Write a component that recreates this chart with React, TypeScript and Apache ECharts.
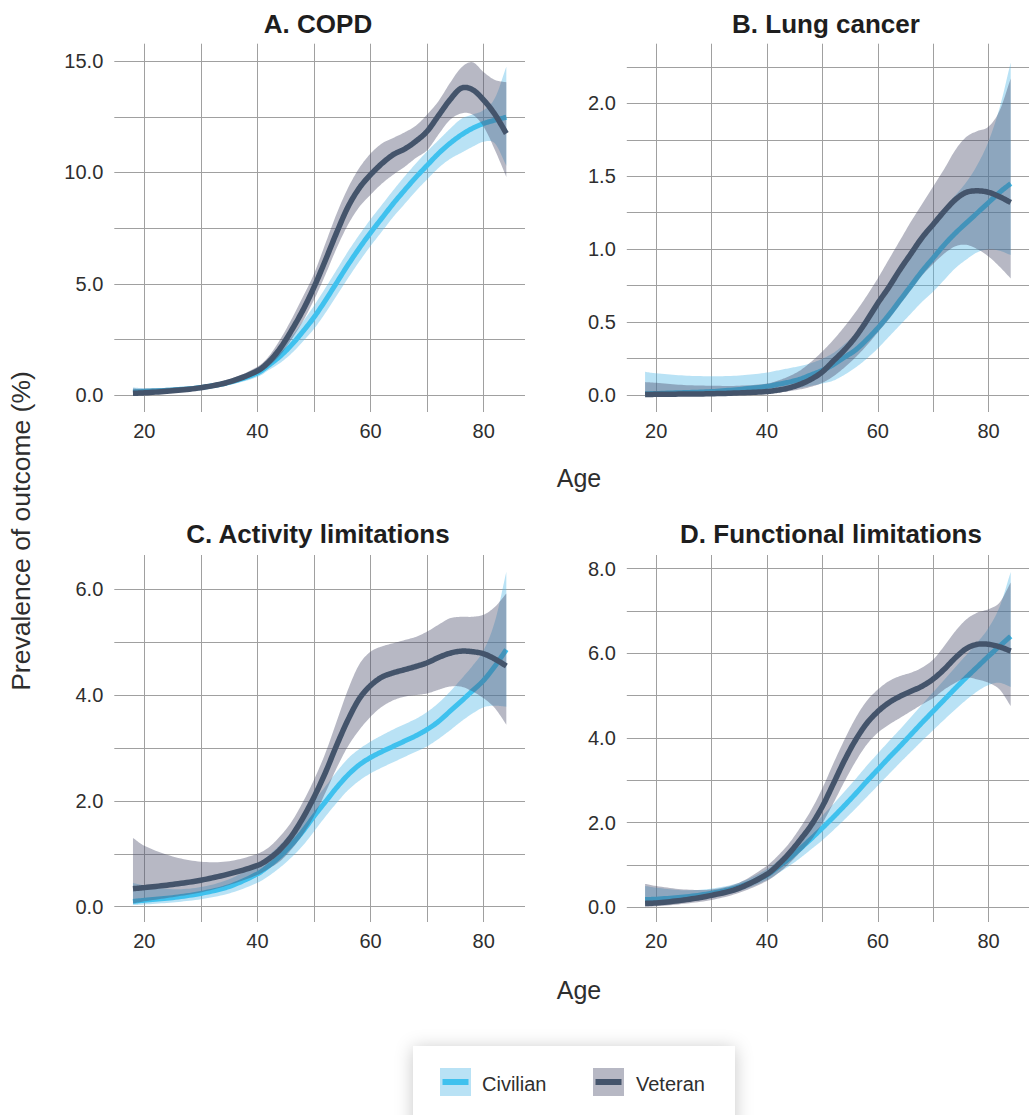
import React, { useEffect, useRef } from "react";
import * as echarts from "echarts";

// ---------- data ----------
const AGES = [18, 20, 25, 30, 35, 40, 42, 44, 46, 48, 50, 52, 54, 56, 58, 60, 62, 64, 66, 68, 70, 72, 74, 76, 78, 80, 82, 84];

const X_GRID = [20, 30, 40, 50, 60, 70, 80];
const X_LABELS = [20, 40, 60, 80];

// A. COPD
const A_VET = [0.09, 0.11, 0.2, 0.34, 0.6, 1.1, 1.5, 2.1, 2.9, 3.8, 4.85, 6.05, 7.3, 8.45, 9.3, 9.9, 10.4, 10.8, 11.05, 11.4, 11.85, 12.55, 13.25, 13.78, 13.72, 13.25, 12.6, 11.75];
const A_VET_LO = [0.0, 0.02, 0.12, 0.25, 0.5, 0.95, 1.3, 1.8, 2.5, 3.3, 4.28, 5.4, 6.6, 7.65, 8.45, 9.0, 9.5, 9.9, 10.25, 10.65, 11.0, 11.7, 12.35, 12.65, 12.6, 12.05, 11.0, 9.8];
const A_VET_HI = [0.3, 0.3, 0.35, 0.45, 0.72, 1.28, 1.75, 2.5, 3.4, 4.4, 5.45, 6.8, 8.15, 9.3, 10.2, 10.85, 11.3, 11.55, 11.8, 12.1, 12.6, 13.2, 14.0, 14.7, 14.95, 14.5, 14.15, 14.05];
const A_CIV = [0.15, 0.17, 0.24, 0.35, 0.58, 1.0, 1.35, 1.75, 2.25, 2.85, 3.5, 4.25, 5.05, 5.85, 6.6, 7.3, 7.95, 8.6, 9.2, 9.78, 10.32, 10.85, 11.3, 11.68, 11.98, 12.2, 12.35, 12.48];
const A_CIV_LO = [0.0, 0.03, 0.14, 0.25, 0.46, 0.82, 1.13, 1.45, 1.87, 2.4, 2.98, 3.69, 4.47, 5.25, 6.0, 6.7, 7.35, 8.0, 8.58, 9.16, 9.69, 10.2, 10.6, 10.88, 11.15, 11.38, 11.3, 10.3];
const A_CIV_HI = [0.35, 0.32, 0.34, 0.45, 0.7, 1.18, 1.57, 2.05, 2.63, 3.3, 4.02, 4.81, 5.63, 6.45, 7.2, 7.9, 8.55, 9.2, 9.82, 10.4, 10.95, 11.45, 11.95, 12.4, 12.6, 12.8, 13.35, 14.75];
const A_Y_GRID = [0, 2.5, 5, 7.5, 10, 12.5, 15];
const A_Y_LABELS = [0, 5, 10, 15];

// B. Lung cancer
const B_VET = [0.005, 0.006, 0.008, 0.01, 0.016, 0.025, 0.035, 0.05, 0.075, 0.11, 0.16, 0.235, 0.31, 0.4, 0.51, 0.63, 0.74, 0.86, 0.97, 1.08, 1.17, 1.26, 1.34, 1.39, 1.4, 1.39, 1.36, 1.32];
const B_VET_LO = [0, 0, 0, 0, 0.005, 0.012, 0.018, 0.028, 0.04, 0.058, 0.085, 0.13, 0.19, 0.26, 0.34, 0.43, 0.52, 0.62, 0.72, 0.82, 0.9, 0.97, 1.02, 1.03, 1.0, 0.95, 0.88, 0.8];
const B_VET_HI = [0.09, 0.085, 0.07, 0.065, 0.065, 0.08, 0.1, 0.13, 0.17, 0.23, 0.3, 0.38, 0.47, 0.57, 0.68, 0.8, 0.93, 1.06, 1.19, 1.31, 1.43, 1.55, 1.68, 1.77, 1.81, 1.84, 1.95, 2.17];
const B_CIV = [0.01, 0.012, 0.018, 0.025, 0.04, 0.06, 0.075, 0.09, 0.11, 0.14, 0.17, 0.21, 0.26, 0.31, 0.38, 0.46, 0.55, 0.65, 0.75, 0.85, 0.94, 1.03, 1.11, 1.18, 1.25, 1.32, 1.39, 1.45];
const B_CIV_LO = [0, 0, 0, 0, 0.005, 0.02, 0.03, 0.04, 0.05, 0.065, 0.08, 0.1, 0.14, 0.19, 0.25, 0.32, 0.4, 0.48, 0.56, 0.64, 0.71, 0.79, 0.87, 0.93, 0.98, 1.0, 0.99, 0.96];
const B_CIV_HI = [0.16, 0.15, 0.135, 0.13, 0.135, 0.155, 0.17, 0.185, 0.2, 0.22, 0.25, 0.29, 0.35, 0.42, 0.51, 0.6, 0.71, 0.83, 0.95, 1.07, 1.18, 1.28, 1.37, 1.46, 1.58, 1.74, 1.97, 2.28];
const B_Y_GRID = [0, 0.25, 0.5, 0.75, 1, 1.25, 1.5, 1.75, 2, 2.25];
const B_Y_LABELS = [0, 0.5, 1, 1.5, 2];

// C. Activity limitations
const C_VET = [0.34, 0.36, 0.42, 0.5, 0.62, 0.78, 0.9, 1.08, 1.33, 1.67, 2.07, 2.53, 3.05, 3.53, 3.93, 4.18, 4.34, 4.42, 4.48, 4.54, 4.61, 4.71, 4.79, 4.83, 4.82, 4.78, 4.68, 4.55];
const C_VET_LO = [0.06, 0.1, 0.18, 0.27, 0.41, 0.6, 0.72, 0.86, 1.08, 1.36, 1.71, 2.15, 2.62, 3.03, 3.34, 3.59, 3.78, 3.9, 3.97, 4.0, 4.03, 4.1, 4.16, 4.16, 4.07, 3.94, 3.75, 3.44];
const C_VET_HI = [1.3, 1.15, 0.95, 0.85, 0.86, 1.0, 1.12, 1.33, 1.6, 1.97, 2.4, 2.9, 3.5, 4.1, 4.58, 4.82, 4.92, 4.98, 5.04, 5.1, 5.2, 5.33, 5.45, 5.48, 5.48, 5.52, 5.67, 5.92];
const C_CIV = [0.1, 0.12, 0.17, 0.25, 0.38, 0.62, 0.77, 0.95, 1.17, 1.42, 1.71, 1.98, 2.25, 2.49, 2.68, 2.82, 2.93, 3.03, 3.13, 3.23, 3.35, 3.5, 3.69, 3.88, 4.08, 4.28, 4.55, 4.86];
const C_CIV_LO = [0.03, 0.04, 0.08, 0.14, 0.25, 0.45, 0.58, 0.74, 0.93, 1.15, 1.42, 1.7, 1.96, 2.2, 2.38, 2.52, 2.63, 2.73, 2.83, 2.93, 3.03, 3.17, 3.33, 3.5, 3.65, 3.77, 3.8, 3.78];
const C_CIV_HI = [0.45, 0.4, 0.33, 0.37, 0.52, 0.8, 0.97, 1.17, 1.41, 1.69, 2.0, 2.27, 2.55, 2.8, 2.98, 3.12, 3.24, 3.35, 3.45, 3.55, 3.68, 3.85, 4.06, 4.3, 4.55, 4.85, 5.4, 6.33];
const C_Y_GRID = [0, 1, 2, 3, 4, 5, 6];
const C_Y_LABELS = [0, 2, 4, 6];

// D. Functional limitations
const D_VET = [0.09, 0.1, 0.17, 0.28, 0.45, 0.78, 1.0, 1.27, 1.59, 1.94, 2.38, 2.92, 3.47, 3.95, 4.34, 4.62, 4.83, 4.98, 5.1, 5.22, 5.39, 5.62, 5.89, 6.11, 6.21, 6.21, 6.15, 6.05];
const D_VET_LO = [0.0, 0.02, 0.08, 0.17, 0.34, 0.62, 0.8, 1.03, 1.3, 1.59, 1.98, 2.46, 2.97, 3.44, 3.84, 4.12, 4.31, 4.47, 4.63, 4.79, 4.94, 5.14, 5.3, 5.42, 5.38, 5.3, 5.14, 4.75];
const D_VET_HI = [0.55, 0.5, 0.42, 0.42, 0.58, 0.98, 1.22, 1.51, 1.88, 2.3, 2.81, 3.4, 3.96, 4.47, 4.87, 5.14, 5.34, 5.46, 5.54, 5.66, 5.85, 6.17, 6.52, 6.8, 6.96, 7.04, 7.2, 7.67];
const D_CIV = [0.18, 0.19, 0.24, 0.33, 0.48, 0.76, 0.95, 1.15, 1.38, 1.62, 1.87, 2.13, 2.4, 2.68, 2.97, 3.25, 3.53, 3.8, 4.08, 4.36, 4.63, 4.9, 5.17, 5.43, 5.68, 5.93, 6.17, 6.4];
const D_CIV_LO = [0.05, 0.07, 0.14, 0.23, 0.38, 0.64, 0.8, 0.97, 1.16, 1.37, 1.58, 1.82, 2.07, 2.33, 2.6, 2.87, 3.14, 3.41, 3.67, 3.93, 4.18, 4.43, 4.67, 4.9, 5.1, 5.25, 5.3, 5.2];
const D_CIV_HI = [0.5, 0.46, 0.4, 0.44, 0.58, 0.9, 1.1, 1.33, 1.6, 1.87, 2.16, 2.44, 2.73, 3.03, 3.34, 3.63, 3.92, 4.2, 4.49, 4.79, 5.08, 5.37, 5.67, 5.96, 6.26, 6.6, 7.1, 7.92];
const D_Y_GRID = [0, 1, 2, 3, 4, 5, 6, 7, 8];
const D_Y_LABELS = [0, 2, 4, 6, 8];

const TITLES = ["A. COPD", "B. Lung cancer", "C. Activity limitations", "D. Functional limitations"];
const LEGEND_LABELS = ["Civilian", "Veteran"];

// ---------- styling ----------
const FONT = "'Liberation Sans', Arial, Helvetica, sans-serif";
const CIV_LINE = "#3fc1ee";
const VET_LINE = "#44546b";
const CIV_BAND = "rgba(80,183,230,0.4)";
const VET_BAND = "rgba(75,78,108,0.4)";
const GRID_COLOR = "#a0a0a0";
const TEXT_COLOR = "#2e2e2e";

const PANELS = [
  { left: 114.3, top: 43.7, height: 368.3, yMin: -0.75, yMax: 15.78, yGrid: A_Y_GRID, yLabels: A_Y_LABELS,
    civ: A_CIV, civLo: A_CIV_LO, civHi: A_CIV_HI, vet: A_VET, vetLo: A_VET_LO, vetHi: A_VET_HI, tx: 318, ty: 24 },
  { left: 626.8, top: 43.7, height: 368.3, yMin: -0.115, yMax: 2.408, yGrid: B_Y_GRID, yLabels: B_Y_LABELS,
    civ: B_CIV, civLo: B_CIV_LO, civHi: B_CIV_HI, vet: B_VET, vetLo: B_VET_LO, vetHi: B_VET_HI, tx: 826, ty: 24 },
  { left: 114.3, top: 555, height: 367, yMin: -0.29, yMax: 6.648, yGrid: C_Y_GRID, yLabels: C_Y_LABELS,
    civ: C_CIV, civLo: C_CIV_LO, civHi: C_CIV_HI, vet: C_VET, vetLo: C_VET_LO, vetHi: C_VET_HI, tx: 318, ty: 534 },
  { left: 626.8, top: 555, height: 367, yMin: -0.35, yMax: 8.32, yGrid: D_Y_GRID, yLabels: D_Y_LABELS,
    civ: D_CIV, civLo: D_CIV_LO, civHi: D_CIV_HI, vet: D_VET, vetLo: D_VET_LO, vetHi: D_VET_HI, tx: 831, ty: 534 },
];
const PANEL_WIDTH = 410.7;

// Cubic Hermite smoothing of pixel points (x monotonic) — rendering only
function smoothPts(p: number[][], steps = 10): number[][] {
  const n = p.length;
  const m: number[] = [];
  for (let i = 0; i < n; i++) {
    const a = p[Math.max(0, i - 1)], b = p[Math.min(n - 1, i + 1)];
    m.push((b[1] - a[1]) / (b[0] - a[0]));
  }
  const out: number[][] = [];
  for (let i = 0; i < n - 1; i++) {
    const p1 = p[i], p2 = p[i + 1];
    const h = p2[0] - p1[0];
    const c1 = [p1[0] + h / 3, p1[1] + (m[i] * h) / 3];
    const c2 = [p2[0] - h / 3, p2[1] - (m[i + 1] * h) / 3];
    for (let s = 0; s < steps; s++) {
      const t = s / steps, mt = 1 - t;
      const a = mt * mt * mt, b = 3 * mt * mt * t, c = 3 * mt * t * t, d = t * t * t;
      out.push([a * p1[0] + b * c1[0] + c * c2[0] + d * p2[0], a * p1[1] + b * c1[1] + c * c2[1] + d * p2[1]]);
    }
  }
  out.push(p[n - 1]);
  return out;
}

function ribbon(gi: number, lo: number[], hi: number[], color: string) {
  return {
    type: "custom", xAxisIndex: gi, yAxisIndex: gi, silent: true, clip: true,
    data: AGES.map((a, i) => [a, lo[i], hi[i]]),
    encode: { x: 0, y: [1, 2] },
    renderItem: (params: any, api: any) => {
      if (params.dataIndexInside !== 0) return null;
      const n = params.dataInsideLength;
      const up: number[][] = [];
      const dn: number[][] = [];
      for (let j = 0; j < n; j++) {
        const x = api.value(0, j);
        up.push(api.coord([x, api.value(2, j)]));
        dn.push(api.coord([x, api.value(1, j)]));
      }
      const pts = smoothPts(up).concat(smoothPts(dn).reverse());
      return { type: "polygon", shape: { points: pts }, style: { fill: color } };
    },
  };
}

function curve(gi: number, vals: number[], color: string, width: number) {
  return {
    type: "custom", xAxisIndex: gi, yAxisIndex: gi, silent: true, clip: true,
    data: AGES.map((a, i) => [a, vals[i]]),
    encode: { x: 0, y: 1 },
    renderItem: (params: any, api: any) => {
      if (params.dataIndexInside !== 0) return null;
      const n = params.dataInsideLength;
      const pts: number[][] = [];
      for (let j = 0; j < n; j++) pts.push(api.coord([api.value(0, j), api.value(1, j)]));
      return {
        type: "polyline",
        shape: { points: smoothPts(pts) },
        style: { stroke: color, lineWidth: width, fill: "none", lineCap: "butt", lineJoin: "round" },
      };
    },
  };
}

export default function App() {
  const ref = useRef<HTMLDivElement>(null);

  useEffect(() => {
    if (!ref.current) return;
    const chart = echarts.init(ref.current, null, { renderer: "svg" });

    const series: any[] = [];
    PANELS.forEach((p, gi) => {
      series.push(ribbon(gi, p.civLo, p.civHi, CIV_BAND));
      series.push(curve(gi, p.civ, CIV_LINE, 5));
      series.push(ribbon(gi, p.vetLo, p.vetHi, VET_BAND));
      series.push(curve(gi, p.vet, VET_LINE, 5.5));
    });

    const graphic: any[] = [];
    PANELS.forEach((p, gi) => {
      graphic.push({
        type: "text", x: p.tx, y: p.ty, silent: true,
        style: { text: TITLES[gi], fill: "#1e1e1e", font: `bold 26px ${FONT}`, textAlign: "center", textVerticalAlign: "middle" },
      });
    });
    graphic.push(
      { type: "text", x: 579, y: 478, silent: true,
        style: { text: "Age", fill: TEXT_COLOR, font: `25px ${FONT}`, textAlign: "center", textVerticalAlign: "middle" } },
      { type: "text", x: 579, y: 990, silent: true,
        style: { text: "Age", fill: TEXT_COLOR, font: `25px ${FONT}`, textAlign: "center", textVerticalAlign: "middle" } },
      { type: "text", x: 21, y: 531, rotation: Math.PI / 2, silent: true,
        style: { text: "Prevalence of outcome (%)", fill: TEXT_COLOR, font: `26.5px ${FONT}`, textAlign: "center", textVerticalAlign: "middle" } },
      // legend box
      { type: "rect", shape: { x: 413, y: 1046, width: 322, height: 90 }, silent: true, z: 10,
        style: { fill: "#ffffff", shadowBlur: 18, shadowColor: "rgba(0,0,0,0.22)", shadowOffsetY: 2 } },
      { type: "rect", shape: { x: 440, y: 1068, width: 31, height: 28 }, silent: true, z: 11,
        style: { fill: "#b9e2f5" } },
      { type: "line", shape: { x1: 442.5, y1: 1082, x2: 468.5, y2: 1082 }, silent: true, z: 12,
        style: { stroke: CIV_LINE, lineWidth: 6 } },
      { type: "text", x: 482, y: 1084, silent: true, z: 12,
        style: { text: LEGEND_LABELS[0], fill: TEXT_COLOR, font: `20px ${FONT}`, textAlign: "left", textVerticalAlign: "middle" } },
      { type: "rect", shape: { x: 593, y: 1068, width: 31, height: 28 }, silent: true, z: 11,
        style: { fill: "#b7b8c4" } },
      { type: "line", shape: { x1: 595.5, y1: 1082, x2: 621.5, y2: 1082 }, silent: true, z: 12,
        style: { stroke: VET_LINE, lineWidth: 6 } },
      { type: "text", x: 636, y: 1084, silent: true, z: 12,
        style: { text: LEGEND_LABELS[1], fill: TEXT_COLOR, font: `20px ${FONT}`, textAlign: "left", textVerticalAlign: "middle" } },
    );

    chart.setOption({
      animation: false,
      backgroundColor: "#ffffff",
      textStyle: { fontFamily: FONT },
      grid: PANELS.map((p) => ({ left: p.left, top: p.top, width: PANEL_WIDTH, height: p.height })),
      xAxis: PANELS.map((p, gi) => ({
        gridIndex: gi, type: "value", min: 14.7, max: 87.3,
        axisLine: { show: false },
        axisTick: { show: false, customValues: X_GRID },
        axisLabel: { customValues: X_LABELS, fontSize: 20, color: TEXT_COLOR, margin: 9, fontFamily: FONT },
        splitLine: { show: true, lineStyle: { color: GRID_COLOR, width: 1 } },
      })),
      yAxis: PANELS.map((p, gi) => ({
        gridIndex: gi, type: "value", min: p.yMin, max: p.yMax,
        axisLine: { show: false },
        axisTick: { show: false, customValues: p.yGrid },
        axisLabel: {
          customValues: p.yLabels, fontSize: 20, color: TEXT_COLOR, margin: 11, fontFamily: FONT,
          formatter: (v: number) => v.toFixed(1),
        },
        splitLine: { show: true, lineStyle: { color: GRID_COLOR, width: 1 } },
      })),
      series,
      graphic,
    });

    return () => chart.dispose();
  }, []);

  return (
    <div
      ref={ref}
      style={{ position: "absolute", left: 0, top: 0, width: 1029, height: 1115, background: "#fff" }}
    />
  );
}
